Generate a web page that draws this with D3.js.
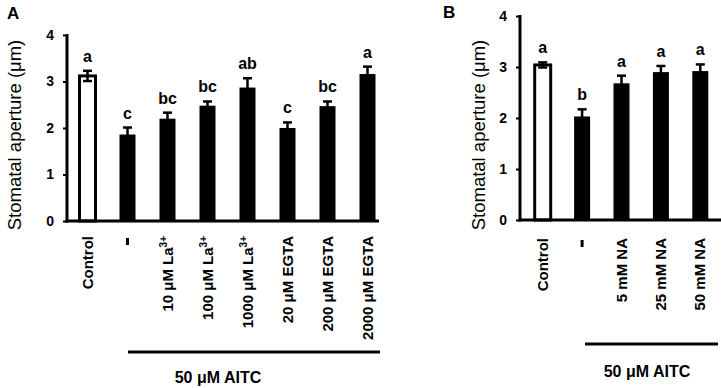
<!DOCTYPE html>
<html>
<head>
<meta charset="utf-8">
<script src="https://cdn.jsdelivr.net/npm/d3@7"></script>
<style>
  body { margin: 0; background: #fff; }
  svg { display: block; font-family: Arial, "Liberation Sans", sans-serif; }
  text { font-weight: bold; fill: #000; }
  text.ytitle { font-weight: normal; }
</style>
</head>
<body>
<svg id="chart" width="721" height="388"></svg>
<script>
// panel A
var catsA = ["Control", "-", "10 μM La|3+", "100 μM La|3+", "1000 μM La|3+", "20 μM EGTA", "200 μM EGTA", "2000 μM EGTA"];
var meanA = [3.12, 1.86, 2.20, 2.48, 2.87, 2.00, 2.47, 3.16];
var errA = [0.11, 0.15, 0.13, 0.09, 0.20, 0.12, 0.10, 0.16];
var letterA = ["a", "c", "bc", "bc", "ab", "c", "bc", "a"];
// panel B
var catsB = ["Control", "-", "5 mM NA", "25 mM NA", "50 mM NA"];
var meanB = [3.04, 2.03, 2.68, 2.90, 2.92];
var errB = [0.05, 0.14, 0.15, 0.12, 0.13];
var letterB = ["a", "b", "a", "a", "a"];
var yTicks = [0, 1, 2, 3, 4];
var treatLabel = "50 μM AITC";

var svg = d3.select("#chart");

function drawPanel(opt) {
	var g = svg.append("g");
	var y = d3.scaleLinear().domain([0, 4]).range([opt.y0, opt.y1]);
	var x = d3.scaleBand().domain(opt.cats).range(opt.xr).paddingInner(0.6).paddingOuter(0.3);
	var bw = 16;
	var cx = (d) => x(d) + x.bandwidth() / 2;

	var yAxis = d3.axisLeft(y).tickValues(yTicks).tickSize(4).tickPadding(9).tickFormat(d3.format("d"));
	var ya = g.append("g")
	          .attr("transform", "translate(" + opt.ax + ",0)")
	          .call(yAxis);
	ya.select(".domain").remove();
	ya.selectAll(".tick line").attr("stroke", "#000").attr("stroke-width", 2);
	ya.selectAll(".tick text").attr("font-size", 14).attr("font-family", "Arial, 'Liberation Sans', sans-serif");
	g.append("line")
	 .attr("x1", opt.ax).attr("x2", opt.ax)
	 .attr("y1", y(4) - 1).attr("y2", y(0) + 1.5)
	 .attr("stroke", "#000").attr("stroke-width", 3);

	// bars
	g.selectAll("rect.bar")
	 .data(opt.mean).enter()
	 .append("rect")
	 .attr("class", "bar")
	 .attr("x", (d, i) => cx(opt.cats[i]) - bw / 2)
	 .attr("y", (d) => y(d))
	 .attr("width", bw)
	 .attr("height", (d) => y(0) - y(d))
	 .attr("fill", (d, i) => i == 0 ? "#fff" : "#000")
	 .attr("stroke", "#000")
	 .attr("stroke-width", (d, i) => i == 0 ? 3 : 0);

	// error bars
	var eb = g.selectAll("g.err")
	          .data(opt.mean).enter()
	          .append("g").attr("class", "err");
	eb.append("line")
	  .attr("x1", (d, i) => cx(opt.cats[i])).attr("x2", (d, i) => cx(opt.cats[i]))
	  .attr("y1", (d, i) => y(d - opt.err[i])).attr("y2", (d, i) => y(d + opt.err[i]))
	  .attr("stroke", "#000").attr("stroke-width", 2.5);
	eb.append("line")
	  .attr("x1", (d, i) => cx(opt.cats[i]) - 4.5).attr("x2", (d, i) => cx(opt.cats[i]) + 4.5)
	  .attr("y1", (d, i) => y(d + opt.err[i])).attr("y2", (d, i) => y(d + opt.err[i]))
	  .attr("stroke", "#000").attr("stroke-width", 2.5);
	eb.append("line")
	  .attr("x1", (d, i) => cx(opt.cats[i]) - 4.5).attr("x2", (d, i) => cx(opt.cats[i]) + 4.5)
	  .attr("y1", (d, i) => y(d - opt.err[i])).attr("y2", (d, i) => y(d - opt.err[i]))
	  .attr("stroke", "#000").attr("stroke-width", 2.5);

	// significance letters
	g.selectAll("text.sig")
	 .data(opt.letters).enter()
	 .append("text")
	 .attr("class", "sig")
	 .attr("x", (d, i) => cx(opt.cats[i]))
	 .attr("y", (d, i) => y(opt.mean[i] + opt.err[i]) - 9)
	 .attr("text-anchor", "middle")
	 .attr("font-size", 16)
	 .text((d) => d);

	// x axis line
	g.append("line")
	 .attr("x1", opt.ax - 1.5).attr("x2", opt.xEnd)
	 .attr("y1", y(0)).attr("y2", y(0))
	 .attr("stroke", "#000").attr("stroke-width", 3);

	// category labels
	opt.cats.forEach(function(c, i) {
		if (c == "-") {
			g.append("rect")
			 .attr("x", cx(c) - 1.5).attr("y", opt.ly + 2)
			 .attr("width", 3).attr("height", 7)
			 .attr("fill", "#000");
			return;
		}
		var parts = c.split("|");
		var t = g.append("text")
		         .attr("transform", "translate(" + (cx(c) + 5) + "," + opt.ly + ") rotate(-90)")
		         .attr("text-anchor", "end")
		         .attr("font-size", 15)
		         .text(parts[0]);
		if (parts[1]) {
			t.append("tspan").attr("font-size", 10).attr("dy", -6).text(parts[1]);
		}
	});

	// treatment bracket
	g.append("line")
	 .attr("x1", opt.br[0]).attr("x2", opt.br[1])
	 .attr("y1", opt.brY).attr("y2", opt.brY)
	 .attr("stroke", "#000").attr("stroke-width", 3);
	g.append("text")
	 .attr("x", opt.tx).attr("y", opt.ty)
	 .attr("text-anchor", "middle")
	 .attr("font-size", 16)
	 .text(treatLabel);

	// y title
	g.append("text")
	 .attr("class", "ytitle")
	 .attr("transform", "translate(" + opt.tlx + ",135) rotate(-90)")
	 .attr("text-anchor", "middle")
	 .attr("font-size", 18.5)
	 .text("Stomatal aperture (μm)");

	// panel letter
	g.append("text")
	 .attr("x", opt.px).attr("y", opt.py)
	 .attr("font-size", 17)
	 .text(opt.panel);
}

drawPanel({
	cats: catsA, mean: meanA, err: errA, letters: letterA,
	y0: 221, y1: 35, ax: 67, xr: [67.5, 387.5], xEnd: 379,
	ly: 236, br: [128, 380], brY: 352, tx: 218, ty: 383,
	tlx: 21, panel: "A", px: 7, py: 19
});
drawPanel({
	cats: catsB, mean: meanB, err: errB, letters: letterB,
	y0: 220, y1: 16, ax: 520, xr: [523, 720], xEnd: 721,
	ly: 238, br: [585, 718], brY: 344, tx: 647, ty: 377,
	tlx: 485, panel: "B", px: 443, py: 18
});
</script>
</body>
</html>
